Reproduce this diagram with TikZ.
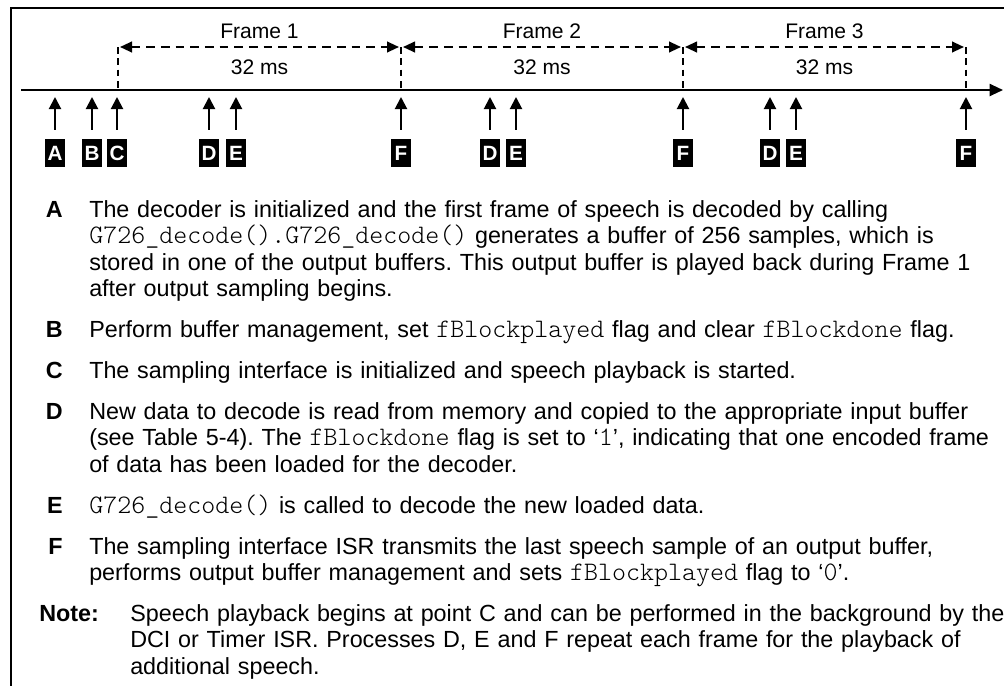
\documentclass[tikz,border=0pt]{standalone}
\usepackage{fontspec}
\setmainfont{Liberation Sans}
\frenchspacing
\newcommand\cd[1]{{\fontfamily{lmtt}\fontseries{l}\fontsize{20}{19.875}\selectfont #1}}
\usetikzlibrary{arrows.meta,calc}
\tikzset{
  frameline/.style={line width=1.5pt},
  timeline/.style={line width=1.5pt,-{Triangle[length=10pt,width=9pt]}},
  bound/.style={line width=1.5pt,dash pattern=on 5pt off 3.5pt},
  span/.style={line width=1.5pt,dash pattern=on 6.5pt off 4.5pt,
    {Triangle[length=9pt,width=8pt]}-{Triangle[length=9pt,width=8pt]}},
  uparrow/.style={line width=1.5pt,-{Triangle[length=9pt,width=9pt]},shorten <=6.75pt},
  evt/.style={fill=black,text=white,inner sep=0pt,minimum width=14.5pt,
    minimum height=21pt,font=\bfseries\fontsize{15.5}{16}\selectfont},
  toplbl/.style={font=\fontsize{15.8}{16}\selectfont,inner sep=0pt},
  key/.style={anchor=base east,inner sep=0pt,font=\bfseries\fontsize{17.5}{19.875}\selectfont},
  body/.style={anchor=base west,inner sep=0pt,text width=700pt,align=left,
    font=\fontsize{17.5}{19.875}\selectfont\frenchspacing},
}
\begin{document}
\begin{tikzpicture}[x=0.75pt,y=-0.75pt]
\useasboundingbox (0,0) rectangle (1004,686);
% outer frame (left and top edges)
\coordinate (fbl) at (11,686);
\coordinate (ftl) at (11,8);
\coordinate (ftr) at (1004,8);
\draw[frameline] (fbl) -- (ftl) -- (ftr);
% time line
\coordinate (ts) at (21,90);
\coordinate (te) at (1003,90);
\draw[timeline] (ts) -- (te);
% frame boundaries
\foreach \i/\x in {0/118,1/401,2/683,3/966}{
  \coordinate (b\i) at (\x,90);
  \coordinate (u\i) at (\x,47);
  \draw[bound] (u\i) -- (b\i);
}
% frame spans
\foreach \i/\j/\n in {0/1/1,1/2/2,2/3/3}{
  \draw[span,shorten <=1.5pt,shorten >=1.5pt] (u\i) -- (u\j);
  \node[toplbl] (fr\n) at ($(u\i)!0.5!(u\j)+(0,-16)$) {Frame \n};
  \node[toplbl] (ms\n) at ($(u\i)!0.5!(u\j)+(0,20)$) {32 ms};
}
% events
\foreach \x/\l/\n in {55/A/1,92/B/2,117/C/3,209/D/4,236/E/5,401/F/6,
                      490/D/7,516/E/8,683/F/9,770/D/10,796/E/11,966/F/12}{
  \node[evt] (ev\n) at (\x,153) {\l};
  \coordinate (tip\n) at (\x,97);
  \draw[uparrow] (ev\n) -- (tip\n);
}
% descriptions
\node[key] (kA) at (63,217) {A};
\node[body] (pA) at (89,217) {The decoder is initialized and the first frame of speech is decoded by calling\\
\cd{G726\_decode().G726\_decode()} generates a buffer of 256 samples, which is\\
stored in one of the output buffers. This output buffer is played back during Frame 1\\
after output sampling begins.};
\node[key] (kB) at (63,337) {B};
\node[body] (pB) at (89,337) {Perform buffer management, set \cd{fBlockplayed} flag and clear \cd{fBlockdone} flag.};
\node[key] (kC) at (63,378) {C};
\node[body] (pC) at (89,378) {The sampling interface is initialized and speech playback is started.};
\node[key] (kD) at (63,419) {D};
\node[body] (pD) at (89,419) {New data to decode is read from memory and copied to the appropriate input buffer\\
(see Table 5-4). The \cd{fBlockdone} flag is set to `\cd{1}', indicating that one encoded frame\\
of data has been loaded for the decoder.};
\node[key] (kE) at (63,513) {E};
\node[body] (pE) at (89,513) {\cd{G726\_decode()} is called to decode the new loaded data.};
\node[key] (kF) at (63,554) {F};
\node[body] (pF) at (89,554) {The sampling interface ISR transmits the last speech sample of an output buffer,\\
performs output buffer management and sets \cd{fBlockplayed} flag to `\cd{0}'.};
\node[key,anchor=base west] (kN) at (39,621) {Note:};
\node[body] (pN) at (130,621) {Speech playback begins at point C and can be performed in the background by the\\
DCI or Timer ISR. Processes D, E and F repeat each frame for the playback of\\
additional speech.};
\end{tikzpicture}
\end{document}
